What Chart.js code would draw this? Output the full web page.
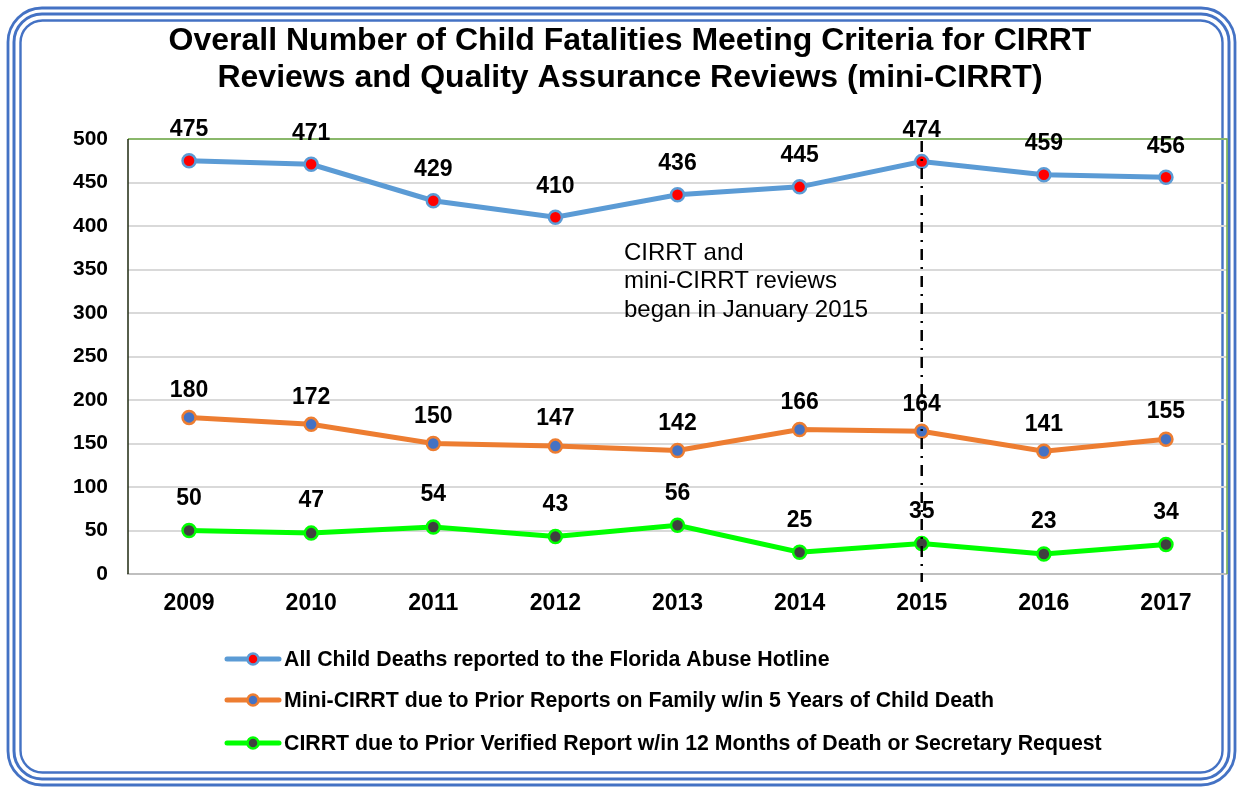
<!DOCTYPE html>
<html>
<head>
<meta charset="utf-8">
<script src="https://cdn.jsdelivr.net/npm/chart.js@4.4.1/dist/chart.umd.min.js"></script>
<style>
html,body{margin:0;padding:0;background:#fff;}
#wrap{width:1243px;height:793px;position:relative;}
</style>
</head>
<body>
<div id="wrap"><canvas id="c" width="1243" height="793"></canvas></div>
<script>
const titleLines = ["Overall Number of Child Fatalities Meeting Criteria for CIRRT", "Reviews and Quality Assurance Reviews (mini-CIRRT)"];
const years = ["2009","2010","2011","2012","2013","2014","2015","2016","2017"];
const allDeaths = [475,471,429,410,436,445,474,459,456];
const miniCirrt = [180,172,150,147,142,166,164,141,155];
const cirrt = [50,47,54,43,56,25,35,23,34];
const seriesNames = [
  "All Child Deaths reported to the Florida Abuse Hotline",
  "Mini-CIRRT due to Prior Reports on Family w/in 5 Years of Child Death",
  "CIRRT due to Prior Verified Report w/in 12 Months of Death or Secretary Request"
];
const annotationLines = ["CIRRT and", "mini-CIRRT reviews", "began in January 2015"];
const markerYear = "2015";
const yTicks = [0,50,100,150,200,250,300,350,400,450,500];

const FONT = "'Liberation Sans', Arial, sans-serif";

function rr(ctx, x, y, w, h, r){
  ctx.beginPath();
  ctx.moveTo(x+r, y);
  ctx.lineTo(x+w-r, y);
  ctx.arcTo(x+w, y, x+w, y+r, r);
  ctx.lineTo(x+w, y+h-r);
  ctx.arcTo(x+w, y+h, x+w-r, y+h, r);
  ctx.lineTo(x+r, y+h);
  ctx.arcTo(x, y+h, x, y+h-r, r);
  ctx.lineTo(x, y+r);
  ctx.arcTo(x, y, x+r, y, r);
  ctx.closePath();
}

const decor = {
  id: 'decor',
  beforeDraw(chart){
    const ctx = chart.ctx;
    ctx.save();
    ctx.fillStyle = '#fff';
    ctx.fillRect(0,0,chart.width,chart.height);
    ctx.strokeStyle = '#4472C4';
    ctx.lineWidth = 2.8;
    rr(ctx, 8, 8, 1227, 777, 34); ctx.stroke();
    ctx.lineWidth = 3;
    rr(ctx, 14, 14, 1215, 765, 28); ctx.stroke();
    ctx.lineWidth = 2.4;
    rr(ctx, 20.5, 20.5, 1202, 752, 22); ctx.stroke();
    // title
    ctx.fillStyle = '#000';
    ctx.font = "bold 32px " + FONT;
    ctx.textAlign = 'center';
    ctx.textBaseline = 'middle';
    ctx.fillText(titleLines[0], 630, 41);
    ctx.fillText(titleLines[1], 630, 78);
    ctx.restore();
  },
  afterDraw(chart){
    const ctx = chart.ctx;
    const a = chart.chartArea;
    const xs = chart.scales.x, ys = chart.scales.y;
    ctx.save();
    // plot border
    ctx.strokeStyle = '#70AD47';
    ctx.lineWidth = 1.5;
    ctx.beginPath();
    ctx.moveTo(a.left, a.top); ctx.lineTo(a.right, a.top); ctx.lineTo(a.right, a.bottom);
    ctx.stroke();
    ctx.strokeStyle = '#1f2a10';
    ctx.lineWidth = 1.5;
    ctx.beginPath(); ctx.moveTo(a.left, a.top); ctx.lineTo(a.left, a.bottom); ctx.stroke();
    // vertical dash-dot line
    const vx = xs.getPixelForValue(years.indexOf(markerYear));
    ctx.strokeStyle = '#000';
    ctx.lineWidth = 2.5;
    ctx.setLineDash([11,7,2,7]);
    ctx.beginPath(); ctx.moveTo(vx, a.top+2); ctx.lineTo(vx, a.bottom+8); ctx.stroke();
    ctx.setLineDash([]);
    // annotation
    ctx.fillStyle = '#000';
    ctx.font = "24px " + FONT;
    ctx.textAlign = 'left';
    ctx.textBaseline = 'middle';
    annotationLines.forEach((t,i)=>ctx.fillText(t, 624, 253 + i*28.5));
    // data labels
    ctx.font = "bold 23px " + FONT;
    ctx.textAlign = 'center';
    const offs = [31, 27, 32];
    chart.data.datasets.forEach((ds, di)=>{
      const meta = chart.getDatasetMeta(di);
      meta.data.forEach((pt, i)=>{
        ctx.fillText(String(ds.data[i]), pt.x, pt.y - offs[di]);
      });
    });
    // legend
    const ly = [659, 700, 743];
    chart.data.datasets.forEach((ds, di)=>{
      const y = ly[di];
      ctx.strokeStyle = ds.borderColor;
      ctx.lineWidth = 5;
      ctx.lineCap = 'round';
      ctx.beginPath(); ctx.moveTo(227, y); ctx.lineTo(279, y); ctx.stroke();
      ctx.beginPath(); ctx.arc(253, y, 5.5, 0, Math.PI*2);
      ctx.fillStyle = ds.pointBackgroundColor; ctx.fill();
      ctx.lineWidth = 2.5; ctx.strokeStyle = ds.pointBorderColor; ctx.stroke();
      ctx.fillStyle = '#000';
      ctx.font = "bold 21.3px " + FONT;
      ctx.textAlign = 'left';
      ctx.fillText(ds.label, 284, y + 1);
    });
    ctx.restore();
  }
};

new Chart(document.getElementById('c'), {
  type: 'line',
  data: {
    labels: years,
    datasets: [
      {label: seriesNames[0], data: allDeaths, borderColor: '#5B9BD5', borderWidth: 5,
       pointBackgroundColor: '#FF0000', pointBorderColor: '#5B9BD5', pointBorderWidth: 2.5, pointRadius: 6.5, tension: 0},
      {label: seriesNames[1], data: miniCirrt, borderColor: '#ED7D31', borderWidth: 5,
       pointBackgroundColor: '#4472C4', pointBorderColor: '#ED7D31', pointBorderWidth: 2.5, pointRadius: 6.5, tension: 0},
      {label: seriesNames[2], data: cirrt, borderColor: '#00FF00', borderWidth: 5,
       pointBackgroundColor: '#404040', pointBorderColor: '#00FF00', pointBorderWidth: 2.5, pointRadius: 6.5, tension: 0}
    ]
  },
  options: {
    responsive: false,
    animation: false,
    devicePixelRatio: 1,
    layout: {padding: {top: 139, left: 0, right: 16, bottom: 0}},
    plugins: {legend: {display: false}, title: {display: false}, tooltip: {enabled: false}},
    scales: {
      x: {
        offset: true,
        grid: {display: false, drawTicks: false},
        border: {display: true, color: '#BFBFBF', width: 2},
        ticks: {color: '#000', font: {family: FONT, size: 23, weight: 'bold'}, padding: 16, maxRotation: 0},
        afterFit(s){ s.height = 219; }
      },
      y: {
        min: 0, max: 500,
        afterBuildTicks(s){ s.ticks = yTicks.map(v=>({value: v})); },
        grid: {color: '#D9D9D9', lineWidth: 2, drawTicks: false},
        border: {display: false},
        ticks: {color: '#000', font: {family: FONT, size: 21, weight: 'bold'}, padding: 20},
        afterFit(s){ s.width = 128; }
      }
    }
  },
  plugins: [decor]
});
</script>
</body>
</html>
